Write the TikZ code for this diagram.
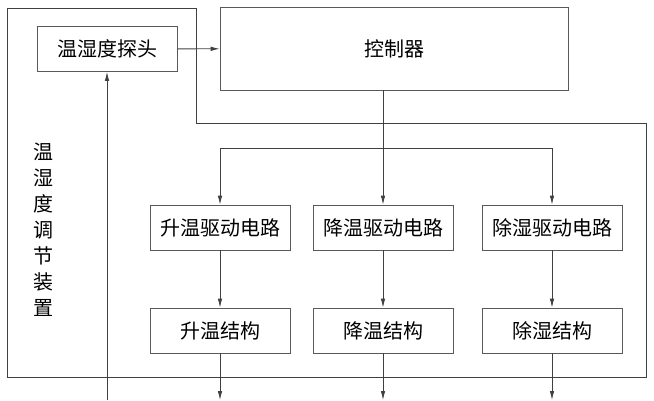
\documentclass[tikz,border=0pt]{standalone}
\usepackage{fontspec}
\usepackage{tikz}
\usetikzlibrary{
    arrows,
    arrows.meta,
    calc,
    positioning
}
\newfontfamily\cjk{Noto Sans CJK SC}
\begin{document}
\begin{tikzpicture}[x=1pt, y=-1pt, line width=0.8pt, draw=black!75,
    >={Latex[length=9pt, width=4.5pt]},
    blk/.style={draw=black!65, rectangle, inner sep=0pt, minimum width=140pt,
        minimum height=45pt, font=\cjk\fontsize{20}{24}\selectfont}]
                        \useasboundingbox (0, 0) rectangle (654, 400);
                        \node[blk] (probe) at (107, 49) {温湿度探头};
                        \node[blk, minimum width=348pt, minimum height=83pt] (ctrl) at (394, 48.5) {控制器};
                        \node[blk] (drvup) at (220, 227.5) {升温驱动电路};
                        \node[blk] (drvdown) at (383, 227.5) {降温驱动电路};
                        \node[blk] (drvdry) at (552, 227.5) {除湿驱动电路};
                        \node[blk] (up) at (220, 330.5) {升温结构};
                        \node[blk] (down) at (383, 330.5) {降温结构};
                        \node[blk] (dry) at (552, 330.5) {除湿结构};
                        \node[align=center, font=\cjk\fontsize{20}{26}\selectfont] (dev) at (44, 230)
                            {温\\湿\\度\\调\\节\\装\\置};
                        \coordinate (busl) at (220, 148);
                        \coordinate (busr) at (552, 148);
                        \coordinate (fb) at (107, 400);
                        \coordinate (outup) at (220, 400);
                        \coordinate (outdown) at (383, 400);
                        \coordinate (outdry) at (552, 400);
                        \draw
                        (probe) edge[->] (ctrl)
                        (drvdown.north |- ctrl.south) edge[->] (drvdown.north)
                        (busl) edge[->] (drvup.north)
                        (busr) edge[->] (drvdry.north)
                        (drvup) edge[->] (up)
                        (drvdown) edge[->] (down)
                        (drvdry) edge[->] (dry)
                        (up) edge[->] (outup)
                        (down) edge[->] (outdown)
                        (dry) edge[->] (outdry)
                        (fb) edge[->] (probe.south)
                        (busl) -- (busr)
                        (7, 8) -- (196, 8) -- (196, 123) -- (646, 123) -- (646, 377) -- (7, 377) -- cycle;
                    \end{tikzpicture}
\end{document}
